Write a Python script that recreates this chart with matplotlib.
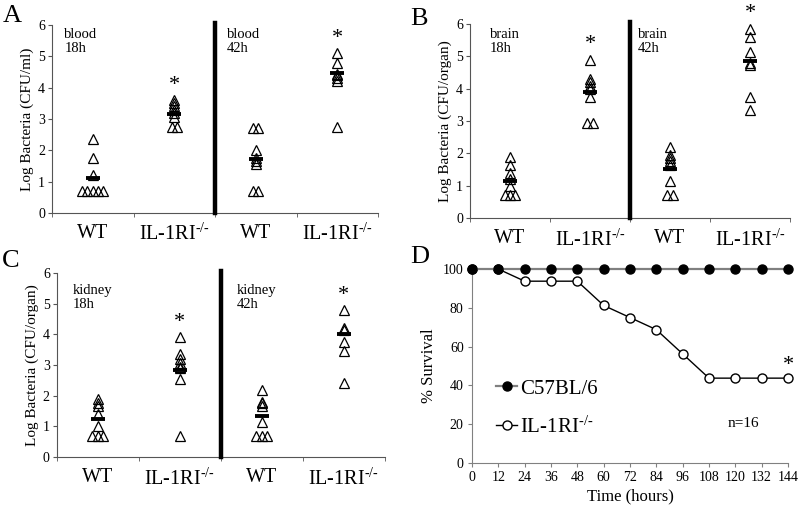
import numpy as np
import matplotlib
matplotlib.use("Agg")
import matplotlib.pyplot as plt

plt.rcParams['font.family'] = ['Liberation Serif', 'DejaVu Serif']
plt.rcParams['mathtext.fontset'] = 'custom'
plt.rcParams['mathtext.rm'] = 'Liberation Serif'
plt.rcParams['mathtext.it'] = 'Liberation Serif:italic'

# ---- data ----
KO = "IL-1RI$^{\u2010/\u2010}$"
groups = ["WT", KO, "WT", KO]

blood_wt_18 = [2.35, 1.75, 1.2, 0.7, 0.7, 0.7, 0.7, 0.7]
blood_ko_18 = [3.6, 3.5, 3.4, 3.3, 3.2, 3.05, 2.75, 2.75]
blood_wt_42 = [2.7, 2.7, 2.0, 1.75, 1.65, 1.55, 0.7, 0.7]
blood_ko_42 = [5.1, 4.8, 4.45, 4.4, 4.3, 4.2, 2.75]
blood_means = [1.1, 3.17, 1.72, 4.47]

brain_wt_18 = [1.9, 1.65, 1.4, 1.2, 1.0, 0.7, 0.7, 0.7]
brain_ko_18 = [4.9, 4.3, 4.2, 4.1, 4.0, 3.75, 2.95, 2.95]
brain_wt_42 = [2.2, 1.95, 1.85, 1.75, 1.65, 1.15, 0.7, 0.7]
brain_ko_42 = [5.85, 5.6, 5.15, 4.8, 4.75, 3.75, 3.35]
brain_means = [1.15, 3.9, 1.53, 4.87]

kidney_wt_18 = [1.9, 1.75, 1.65, 1.4, 1.0, 0.7, 0.7, 0.7]
kidney_ko_18 = [3.9, 3.35, 3.2, 3.05, 2.95, 2.9, 2.55, 0.7]
kidney_wt_42 = [2.2, 1.8, 1.75, 1.65, 1.15, 0.7, 0.7, 0.7]
kidney_ko_42 = [4.8, 4.2, 4.15, 3.75, 3.45, 2.4]
kidney_means = [1.24, 2.85, 1.34, 4.0]

hours = [0, 12, 24, 36, 48, 60, 72, 84, 96, 108, 120, 132, 144]
surv_c57 = [100, 100, 100, 100, 100, 100, 100, 100, 100, 100, 100, 100, 100]
surv_ko = [100, 100, 93.75, 93.75, 93.75, 81.25, 75, 68.75, 56.25, 43.75, 43.75, 43.75, 43.75]

SPINE = '#555555'


def spread(values, step=0.065):
    # spread tied values sideways so they stay visible
    vals = np.array(values)
    offs = np.zeros(len(vals))
    for v in np.unique(vals):
        idx = np.where(vals == v)[0]
        offs[idx] = (np.arange(len(idx)) - (len(idx) - 1) / 2) * step
    return offs


def strip_panel(ax, data, means, organ, ylabel, label_x, label_top=5.92):
    for i, vals in enumerate(data):
        x = i + 0.5 + spread(vals)
        ax.plot(x, vals, linestyle='none', marker='^', ms=6.5, mfc='none',
                mec='black', mew=0.9, zorder=3)
        ax.plot(i + 0.5, means[i], marker='_', ms=9.5, mew=2.8, color='black', zorder=4)
        if i % 2 == 1:
            ax.text(i + 0.5, max(vals) + 0.17, '*', ha='center', va='bottom',
                    fontsize=16, clip_on=False)
    ax.axvline(2, ymin=0, ymax=1.012, color='black', lw=3.2, clip_on=False, zorder=5)
    ax.text(label_x[0], label_top, f"{organ}\n18h", va='top', ha='left', fontsize=10.5,
            linespacing=1.1)
    ax.text(label_x[1], label_top, f"{organ}\n42h", va='top', ha='left', fontsize=10.5,
            linespacing=1.1)
    ax.set_xlim(0, 4)
    ax.set_ylim(0, 6)
    ax.set_yticks(range(7))
    ax.set_xticks([0.5, 1.5, 2.5, 3.5])
    ax.set_xticklabels(groups, fontsize=14.5)
    ax.set_xticks([0, 1, 2, 3, 4], minor=True)
    ax.tick_params(axis='x', which='major', length=0, pad=8)
    ax.tick_params(axis='x', which='minor', length=3, color=SPINE)
    ax.tick_params(axis='y', length=3, color=SPINE, labelsize=10, pad=2)
    ax.set_ylabel(ylabel, fontsize=11, labelpad=3)
    for s in ['top', 'right']:
        ax.spines[s].set_visible(False)
    for s in ['left', 'bottom']:
        ax.spines[s].set_color(SPINE)


fig = plt.figure(figsize=(8, 5.13), dpi=100)

axA = fig.add_axes([0.065, 0.585, 0.4075, 0.366])
axB = fig.add_axes([0.5875, 0.575, 0.40, 0.378])
axC = fig.add_axes([0.071, 0.109, 0.41, 0.359])
axD = fig.add_axes([0.59, 0.0975, 0.395, 0.378])

strip_panel(axA, [blood_wt_18, blood_ko_18, blood_wt_42, blood_ko_42], blood_means,
            'blood', 'Log Bacteria (CFU/ml)', (0.15, 2.15))
strip_panel(axB, [brain_wt_18, brain_ko_18, brain_wt_42, brain_ko_42], brain_means,
            'brain', 'Log Bacteria (CFU/organ)', (0.25, 2.1), label_top=5.88)
strip_panel(axC, [kidney_wt_18, kidney_ko_18, kidney_wt_42, kidney_ko_42], kidney_means,
            'kidney', 'Log Bacteria (CFU/organ)', (0.2, 2.2), label_top=5.65)

# survival panel
axD.plot(hours, surv_ko, color='black', lw=1.0, marker='o', ms=6.5, mfc='white',
         mec='black', mew=1.0, clip_on=False, zorder=3, label=KO)
axD.plot(hours, surv_c57, color='#808080', lw=1.6, marker='o', ms=6.5, mfc='black',
         mec='black', clip_on=False, zorder=4, label='C57BL/6')
axD.set_xlim(0, 144)
axD.set_ylim(0, 100)
axD.set_xticks(hours)
axD.set_yticks(range(0, 101, 20))
axD.tick_params(length=3, color='#808080', labelsize=10, pad=3)
axD.set_xlabel('Time (hours)', fontsize=12, labelpad=3)
axD.set_ylabel('% Survival', fontsize=12, labelpad=4)
for s in ['top', 'right']:
    axD.spines[s].set_visible(False)
for s in ['left', 'bottom']:
    axD.spines[s].set_color('#808080')
h, l = axD.get_legend_handles_labels()
axD.legend(h[::-1], l[::-1], loc='upper left', bbox_to_anchor=(0.05, 0.475),
           frameon=False, fontsize=15, handlelength=1.0, handletextpad=0.15,
           labelspacing=0.85, borderaxespad=0)
axD.text(123.5, 20.6, 'n=16', ha='center', va='center', fontsize=11)
axD.text(144, surv_ko[-1] + 1.5, '*', ha='center', va='bottom', fontsize=16,
         clip_on=False)

# panel letters
fig.text(0.004, 0.99, 'A', fontsize=19, va='top', ha='left')
fig.text(0.513, 0.985, 'B', fontsize=19, va='top', ha='left')
fig.text(0.002, 0.512, 'C', fontsize=19, va='top', ha='left')
fig.text(0.513, 0.52, 'D', fontsize=19, va='top', ha='left')

fig.savefig('out.png', dpi=100)
